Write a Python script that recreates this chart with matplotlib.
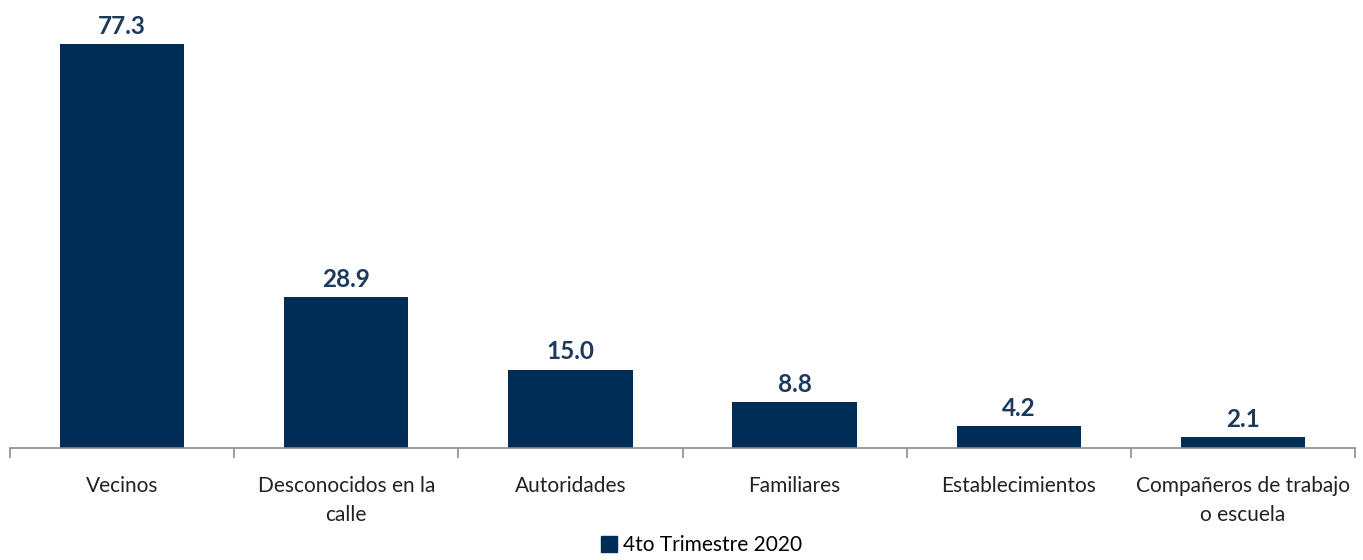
import numpy as np
import matplotlib
matplotlib.use("Agg")
import matplotlib.pyplot as plt
from matplotlib.patches import Patch

categorias = ["Vecinos", "Desconocidos en la\ncalle", "Autoridades", "Familiares",
              "Establecimientos", "Compañeros de trabajo\no escuela"]
valores = [77.3, 28.9, 15.0, 8.8, 4.2, 2.1]
serie = "4to Trimestre 2020"

plt.rcParams['font.family'] = ['Lato', 'DejaVu Sans']
azul = '#002D56'

fig = plt.figure(figsize=(13.63, 5.6), dpi=100)
ax = fig.add_axes([10/1363, 112/560, 1345/1363, 448/560])

x = np.arange(len(categorias))
ax.bar(x, valores, width=0.555, color=azul)
for xi, v in zip(x, valores):
    ax.text(xi, v + 1.2, f"{v:.1f}", ha='center', va='bottom',
            fontsize=17.5, fontweight='bold', color='#1B3A5C')

ax.set_xlim(-0.5, len(categorias) - 0.5)
ax.set_ylim(0, 85.7)
ax.set_yticks([])
for s in ['top', 'right', 'left']:
    ax.spines[s].set_visible(False)
ax.spines['bottom'].set_color('#8C8C8C')
ax.spines['bottom'].set_linewidth(1.2)

ax.set_xticks(x)
ax.set_xticklabels(categorias, fontsize=15, color='#222222', linespacing=1.55)
ax.tick_params(axis='x', which='major', length=0, pad=20)
ax.set_xticks(np.arange(-0.5, len(categorias)), minor=True)
ax.tick_params(axis='x', which='minor', length=7, color='#8C8C8C', width=1.2)

fig.legend(handles=[Patch(color=azul)], labels=[serie], loc='lower center',
           bbox_to_anchor=(0.515, -0.025), frameon=False, fontsize=15,
           handlelength=0.75, handleheight=0.75, handletextpad=0.3)

fig.savefig("out.png", dpi=100)
